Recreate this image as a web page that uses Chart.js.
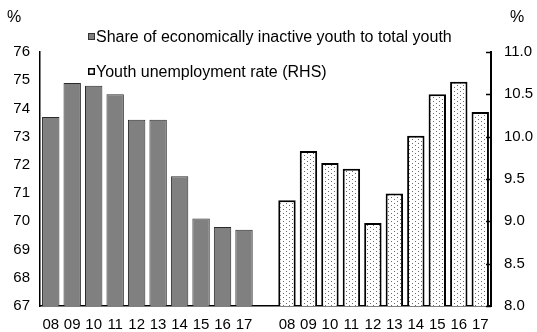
<!DOCTYPE html>
<html>
<head>
<meta charset="utf-8">
<script src="https://cdn.jsdelivr.net/npm/chart.js@4/dist/chart.umd.min.js"></script>
<style>
  html, body { margin: 0; padding: 0; background: #fff; }
  #wrap { width: 537px; height: 332px; }
</style>
</head>
<body>
<div id="wrap"><canvas id="c" width="537" height="332"></canvas></div>
<script>
// Years shown under each group of bars
const years = ['08', '09', '10', '11', '12', '13', '14', '15', '16', '17'];
// Share of economically inactive youth to total youth (%), left axis
const inactiveShare = [73.7, 74.9, 74.8, 74.5, 73.6, 73.6, 71.6, 70.1, 69.8, 69.7];
// Youth unemployment rate (%), right axis
const unemploymentRate = [9.25, 9.83, 9.69, 9.62, 8.98, 9.33, 10.01, 10.50, 10.65, 10.29];
// Axis tick values
const leftTicks = [67, 68, 69, 70, 71, 72, 73, 74, 75, 76];
const rightTicks = [8.0, 8.5, 9.0, 9.5, 10.0, 10.5, 11.0];
const seriesNames = ['Share of economically inactive youth to total youth', 'Youth unemployment rate (RHS)'];

const FONT = "'Liberation Sans', Arial, sans-serif";

// Category axis: first group, one empty spacer slot, second group
const categories = [...years, '', ...years];
const gap = new Array(years.length + 1).fill(null);
const leftData = [...inactiveShare, ...gap];
const rightData = [...gap, ...unemploymentRate];

// Dotted fill for the unemployment bars
function dotPattern() {
  const tile = document.createElement('canvas');
  tile.width = 6; tile.height = 4;
  const t = tile.getContext('2d');
  t.fillStyle = '#fff';
  t.fillRect(0, 0, 6, 4);
  t.fillStyle = '#6a6a6a';
  t.fillRect(1, 1, 1, 1);
  t.fillRect(4, 3, 1, 1);
  return document.getElementById('c').getContext('2d').createPattern(tile, 'repeat');
}

// Inward tick marks on the right axis, the legend and the unit labels
const decorations = {
  id: 'decorations',
  afterDraw(chart) {
    const ctx = chart.ctx;
    const y1 = chart.scales.y1;
    const area = chart.chartArea;
    ctx.save();
    ctx.strokeStyle = '#000';
    ctx.lineWidth = 1.5;
    rightTicks.forEach(v => {
      const py = Math.round(y1.getPixelForValue(v)) + 0.5;
      ctx.beginPath();
      ctx.moveTo(area.right - 5, py);
      ctx.lineTo(area.right, py);
      ctx.stroke();
    });

    ctx.font = '16px ' + FONT;
    ctx.fillStyle = '#000';
    ctx.textBaseline = 'middle';
    ctx.textAlign = 'center';
    ctx.fillText('%', 14, 18);
    ctx.fillText('%', 517, 18);

    // legend
    ctx.textAlign = 'left';
    const rows = [37, 72];
    ctx.fillStyle = '#808080';
    ctx.fillRect(88, rows[0] - 4, 7, 7);
    ctx.strokeStyle = '#333';
    ctx.lineWidth = 1;
    ctx.strokeRect(88.5, rows[0] - 3.5, 6, 6);
    ctx.fillStyle = '#fff';
    ctx.fillRect(88, rows[1] - 4, 7, 7);
    ctx.strokeStyle = '#000';
    ctx.lineWidth = 1.5;
    ctx.strokeRect(88.75, rows[1] - 3.25, 5.5, 5.5);

    ctx.fillStyle = '#000';
    ctx.fillText(seriesNames[0], 96, rows[0] + 1);
    ctx.fillText(seriesNames[1], 96, rows[1] + 1);
    ctx.restore();
  }
};

new Chart(document.getElementById('c'), {
  type: 'bar',
  data: {
    labels: categories,
    datasets: [
      {
        label: seriesNames[0],
        data: leftData,
        yAxisID: 'y',
        backgroundColor: '#808080',
        borderColor: '#2a2a2a',
        borderWidth: 1,
        barPercentage: 0.81,
        categoryPercentage: 1.0
      },
      {
        label: seriesNames[1],
        data: rightData,
        yAxisID: 'y1',
        backgroundColor: dotPattern(),
        borderColor: '#000000',
        borderWidth: 2,
        barPercentage: 0.81,
        categoryPercentage: 1.0
      }
    ]
  },
  options: {
    responsive: false,
    animation: false,
    devicePixelRatio: 1,
    layout: { padding: { top: 52, left: 0, right: 0, bottom: 0 } },
    datasets: { bar: { grouped: false, skipNull: true } },
    plugins: { legend: { display: false }, tooltip: { enabled: false } },
    scales: {
      x: {
        grid: { display: false, drawTicks: false },
        border: { display: true, color: '#000', width: 1.5 },
        ticks: {
          font: { size: 15, family: FONT },
          color: '#000',
          padding: 10,
          maxRotation: 0,
          autoSkip: false
        },
        afterFit(s) { s.height = 26; }
      },
      y: {
        position: 'left',
        min: leftTicks[0],
        max: leftTicks[leftTicks.length - 1],
        grid: { display: false, drawTicks: false },
        border: { display: true, color: '#000', width: 1.5 },
        afterBuildTicks(s) { s.ticks = leftTicks.map(v => ({ value: v })); },
        ticks: {
          font: { size: 15, family: FONT },
          color: '#000',
          padding: 10
        },
        afterFit(s) { s.width = 40; }
      },
      y1: {
        position: 'right',
        min: rightTicks[0],
        max: rightTicks[rightTicks.length - 1],
        grid: { display: false, drawTicks: false },
        border: { display: true, color: '#000', width: 2 },
        afterBuildTicks(s) { s.ticks = rightTicks.map(v => ({ value: v })); },
        ticks: {
          font: { size: 15, family: FONT },
          color: '#000',
          padding: 13,
          callback: v => Number(v).toFixed(1)
        },
        afterFit(s) { s.width = 46; }
      }
    }
  },
  plugins: [decorations]
});
</script>
</body>
</html>
